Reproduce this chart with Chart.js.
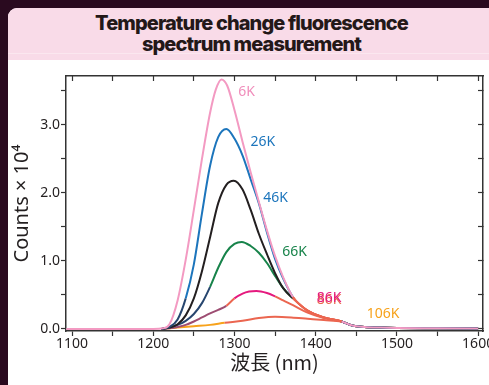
<!DOCTYPE html>
<html>
<head>
<meta charset="utf-8">
<script src="https://cdn.jsdelivr.net/npm/chart.js@4.4.1/dist/chart.umd.min.js"></script>
<style>
  html, body { margin: 0; padding: 0; }
  body { width: 489px; height: 385px; overflow: hidden; background: #2a0a1f; position: relative; }
  .panel { position: absolute; left: 8px; top: 8px; width: 487px; height: 390px; background: #fff;
           border-top-left-radius: 9px; overflow: hidden; }
  .head { position: relative; height: 52px; background: #f9dbe8; }
  .head::after { content: ''; position: absolute; left: 0; right: 0; top: 45px; height: 1px; background: #fbe7ef; }
  .head h1 { margin: 0; padding-top: 5px; font: 800 20px/21px Inter, sans-serif; letter-spacing: -0.9px;
             color: #231818; text-align: center; position: relative; z-index: 1; }
  canvas { position: absolute; left: 0; top: 52px; }
</style>
</head>
<body>
<div class="panel">
  <div class="head"><h1>Temperature change fluorescence<br>spectrum measurement</h1></div>
  <canvas id="chart" width="500" height="325"></canvas>
</div>
<script>
// axes
const xTicks = [1100, 1150, 1200, 1250, 1300, 1350, 1400, 1450, 1500, 1550, 1600];
const yTicks = [0, 0.5, 1, 1.5, 2, 2.5, 3, 3.5];

// common tail of all curves after they merge
const tailWl  = [1445, 1460, 1480, 1500, 1550, 1600];
const tailCnt = [0.05, 0.03, 0.02, 0.015, 0.01, 0.005];

// spectra (x = wavelength nm, y = counts x 10^4)
const wl6K  = [1093, 1150, 1200, 1212, 1220, 1230, 1240, 1250, 1260, 1270, 1277, 1284, 1291, 1300, 1310, 1320, 1330, 1340, 1350, 1360, 1372, 1390, 1410, 1432];
const cnt6K = [0, 0, 0, 0.01, 0.07, 0.42, 1.02, 1.75, 2.5, 3.18, 3.52, 3.67, 3.58, 3.22, 2.75, 2.3, 1.87, 1.45, 1.07, 0.76, 0.47, 0.27, 0.17, 0.11];

const wl26K  = [1210, 1220, 1230, 1240, 1250, 1260, 1270, 1280, 1290, 1300, 1310, 1320, 1330, 1340, 1350, 1360, 1372, 1390, 1410, 1432];
const cnt26K = [0, 0.03, 0.14, 0.45, 0.95, 1.7, 2.4, 2.82, 2.94, 2.8, 2.55, 2.2, 1.85, 1.42, 1.03, 0.74, 0.47, 0.27, 0.17, 0.11];

const wl46K  = [1210, 1220, 1230, 1240, 1250, 1260, 1270, 1280, 1290, 1299, 1310, 1320, 1330, 1340, 1350, 1360, 1372, 1390, 1410, 1432];
const cnt46K = [0, 0.02, 0.07, 0.2, 0.45, 0.85, 1.35, 1.85, 2.12, 2.18, 2.05, 1.75, 1.4, 1.1, 0.82, 0.6, 0.45, 0.27, 0.17, 0.11];

const wl66K  = [1210, 1220, 1230, 1240, 1250, 1260, 1270, 1280, 1290, 1300, 1309, 1320, 1330, 1340, 1350, 1360, 1372, 1390, 1410, 1432];
const cnt66K = [0, 0.02, 0.06, 0.12, 0.22, 0.38, 0.62, 0.9, 1.13, 1.25, 1.28, 1.22, 1.12, 0.97, 0.78, 0.6, 0.45, 0.27, 0.17, 0.11];

const wl86K  = [1210, 1220, 1230, 1240, 1250, 1260, 1270, 1280, 1290, 1300, 1310, 1318, 1327, 1340, 1350, 1360, 1372, 1390, 1410, 1432];
const cnt86K = [0, 0.01, 0.03, 0.06, 0.11, 0.17, 0.23, 0.28, 0.34, 0.45, 0.52, 0.55, 0.56, 0.53, 0.48, 0.42, 0.35, 0.24, 0.16, 0.11];

const wl106K  = [1210, 1220, 1230, 1250, 1270, 1288, 1310, 1330, 1350, 1370, 1390, 1410, 1432];
const cnt106K = [0, 0.01, 0.02, 0.04, 0.06, 0.09, 0.12, 0.16, 0.18, 0.17, 0.15, 0.13, 0.11];

const temps = ['6K', '26K', '46K', '66K', '86K', '106K'];

// where the temperature labels sit (data coords)
const labelWl  = [1315, 1335, 1350.5, 1374, 1416.5, 1483];
const labelCnt = [3.485, 2.75, 1.92, 1.13, 0.455, 0.213];

const PINK = '#f39ac2', BLUE = '#1c75bc', BLACK = '#231f20', GREEN = '#17834a',
      MAGENTA = '#e5197e', SALMON = '#eb6650', ORANGE = '#f7a21b', NAVY = '#27466f', MAUVE = '#9d4d72';
const labelColors = ['#f08dbb', BLUE, BLUE, GREEN, MAGENTA, ORANGE];

const pts = (xs, ys) => xs.map((x, i) => ({ x: x, y: ys[i] }));

// colour pieces of a line by wavelength range
function seg(base, parts) {
  return ctx => {
    const x = ctx.p0.parsed.x;
    for (const [a, b, c] of parts) if (x >= a && x < b) return c;
    return base;
  };
}

const series = [
  { data: pts(wl6K.concat(tailWl), cnt6K.concat(tailCnt)), color: PINK, parts: [[1372, 1432, SALMON]] },
  { data: pts(wl26K.concat(tailWl), cnt26K.concat(tailCnt)), color: BLUE, parts: [[0, 1240, NAVY], [1372, 1432, SALMON]] },
  { data: pts(wl46K.concat(tailWl), cnt46K.concat(tailCnt)), color: BLACK, parts: [[1372, 1432, SALMON]] },
  { data: pts(wl66K.concat(tailWl), cnt66K.concat(tailCnt)), color: GREEN, parts: [[0, 1262, NAVY], [1372, 1432, SALMON]] },
  { data: pts(wl86K.concat(tailWl), cnt86K.concat(tailCnt)), color: MAGENTA, parts: [[0, 1288, MAUVE], [1288, 1300, SALMON], [1350, 1432, SALMON]] },
  { data: pts(wl106K.concat(tailWl), cnt106K.concat(tailCnt)), color: ORANGE, parts: [[1288, 1432, SALMON]] }
];

const datasets = series.map((s, i) => ({
  label: temps[i],
  data: s.data,
  borderColor: s.color,
  borderWidth: 2,
  pointRadius: 0,
  fill: false,
  cubicInterpolationMode: 'monotone',
  segment: { borderColor: seg(s.color, s.parts) }
}));

// temperature labels next to the curves
const curveLabels = {
  id: 'curveLabels',
  afterDatasetsDraw(chart) {
    const { ctx, scales: { x, y } } = chart;
    ctx.save();
    ctx.font = '14px "Noto Sans"';
    ctx.textAlign = 'center';
    ctx.textBaseline = 'middle';
    temps.forEach((t, i) => {
      const px = x.getPixelForValue(labelWl[i]);
      const py = y.getPixelForValue(labelCnt[i]);
      if (t === '86K') {
        ctx.fillStyle = SALMON;
        ctx.fillText(t, px, py + 1.5);
      }
      ctx.fillStyle = labelColors[i];
      ctx.fillText(t, px, py);
    });
    ctx.restore();
  }
};

const tickFont = { family: 'Noto Sans', size: 14 };
const axisColor = '#333';
const setTicks = list => scale => { scale.ticks = list.map(v => ({ value: v })); };

new Chart(document.getElementById('chart'), {
  type: 'line',
  data: { datasets: datasets },
  plugins: [curveLabels],
  options: {
    responsive: false,
    animation: false,
    devicePixelRatio: 1,
    layout: { padding: 0 },
    plugins: { legend: { display: false }, tooltip: { enabled: false } },
    scales: {
      x: {
        type: 'linear', position: 'bottom', min: 1092.6, max: 1606,
        afterBuildTicks: setTicks(xTicks),
        afterFit: s => { s.height = 54; },
        ticks: { font: tickFont, color: BLACK, padding: 0, maxRotation: 0, autoSkip: false,
                 callback: v => (v % 100 === 0 ? String(v) : '') },
        grid: { drawOnChartArea: false, tickLength: 5, color: axisColor, tickWidth: 1.2 },
        border: { display: true, color: axisColor, width: 1.5 },
        title: { display: true, text: '波長 (nm)', color: BLACK,
                 font: { family: '"Noto Sans CJK JP"', size: 20 }, padding: { top: 0, bottom: 11 } }
      },
      x2: {
        type: 'linear', position: 'top', min: 1092.6, max: 1606,
        afterBuildTicks: setTicks(xTicks),
        afterFit: s => { s.height = 16; },
        ticks: { callback: () => '' },
        grid: { drawOnChartArea: false, tickLength: -5, color: axisColor, tickWidth: 1.2 },
        border: { display: true, color: axisColor, width: 1.5 }
      },
      y: {
        type: 'linear', position: 'left', min: -0.03, max: 3.72,
        afterBuildTicks: setTicks(yTicks),
        afterFit: s => { s.width = 58; },
        ticks: { font: tickFont, color: BLACK, padding: 1,
                 callback: v => (v % 1 === 0 ? v.toFixed(1) : '') },
        grid: { drawOnChartArea: false, tickLength: 5, color: axisColor, tickWidth: 1.2 },
        border: { display: true, color: axisColor, width: 1.5 },
        title: { display: true, text: 'Counts × 10⁴', color: BLACK,
                 font: { family: 'Noto Sans', size: 20 }, padding: { top: 2, bottom: 0 } }
      },
      y2: {
        type: 'linear', position: 'right', min: -0.03, max: 3.72,
        afterBuildTicks: setTicks(yTicks),
        afterFit: s => { s.width = 25; },
        ticks: { callback: () => '' },
        grid: { drawOnChartArea: false, tickLength: -5, color: axisColor, tickWidth: 1.2 },
        border: { display: true, color: axisColor, width: 1.5 }
      }
    }
  }
});
</script>
</body>
</html>
